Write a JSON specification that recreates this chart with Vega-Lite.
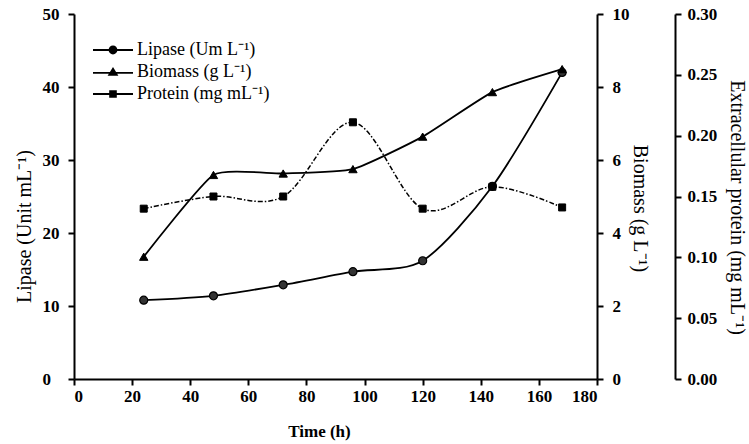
{
  "$schema": "https://vega.github.io/schema/vega-lite/v6.json",
  "autosize": "none",
  "width": 523,
  "height": 365,
  "padding": {"left": 74, "top": 14, "right": 152, "bottom": 65},
  "background": "white",
  "config": {
    "font": "Liberation Serif",
    "view": {"stroke": null},
    "axis": {
      "grid": false,
      "domainColor": "black",
      "domainWidth": 2,
      "tickColor": "black",
      "tickWidth": 2,
      "tickSize": 6,
      "labelFont": "Liberation Serif",
      "labelFontSize": 17,
      "labelFontWeight": "bold",
      "labelColor": "black",
      "labelPadding": 3,
      "titleFont": "Liberation Serif",
      "titleColor": "black",
      "titleFontWeight": "normal",
      "titleFontSize": 20
    }
  },
  "data": {
    "values": [
      {"time": 24, "lipase": 10.8, "biomass": 3.35, "protein": 0.140},
      {"time": 48, "lipase": 11.4, "biomass": 5.59, "protein": 0.150},
      {"time": 72, "lipase": 12.9, "biomass": 5.63, "protein": 0.150},
      {"time": 96, "lipase": 14.7, "biomass": 5.75, "protein": 0.211},
      {"time": 120, "lipase": 16.2, "biomass": 6.64, "protein": 0.140},
      {"time": 144, "lipase": 26.4, "biomass": 7.86, "protein": 0.158},
      {"time": 168, "lipase": 42.0, "biomass": 8.49, "protein": 0.141}
    ]
  },
  "encoding": {
    "x": {
      "field": "time",
      "type": "quantitative",
      "scale": {"domain": [0, 180], "nice": false},
      "axis": {
        "values": [0, 20, 40, 60, 80, 100, 120, 140, 160, 180],
        "title": "Time (h)",
        "titleFontWeight": "bold",
        "titleFontSize": 17,
        "titlePadding": 19,
        "titleX": 245
      }
    }
  },
  "layer": [
    {
      "encoding": {
        "y": {
          "field": "lipase",
          "type": "quantitative",
          "scale": {"domain": [0, 50], "nice": false},
          "axis": {
            "orient": "left",
            "values": [0, 10, 20, 30, 40, 50],
            "labelAlign": "left",
            "labelPadding": 26,
            "title": "Lipase (Unit mL⁻¹)",
            "titleY": 212,
            "titlePadding": 8
          }
        }
      },
      "layer": [
        {"mark": {"type": "line", "interpolate": "cardinal", "tension": 0.2, "color": "black", "strokeWidth": 1.8}},
        {"mark": {"type": "point", "shape": "circle", "filled": true, "fill": "#333333", "stroke": "black", "strokeWidth": 1.2, "size": 64, "opacity": 1}},
        {
          "mark": {"type": "point", "filled": true, "color": "black", "size": 64, "opacity": 0},
          "encoding": {
            "shape": {
              "datum": "Lipase (Um L⁻¹)",
              "scale": {
                "domain": ["Lipase (Um L⁻¹)", "Biomass (g L⁻¹)", "Protein (mg mL⁻¹)"],
                "range": [
                  "M-5,-0.22L5,-0.22L5,0.22L-5,0.22ZM1.1,0A1.1,1.1,0,1,1,-1.1,0A1.1,1.1,0,1,1,1.1,0Z",
                  "M-5,-0.02L5,-0.02L5,0.42L-5,0.42ZM0,-1.25L1.35,0.95L-1.35,0.95Z",
                  "M-5,-0.22L5,-0.22L5,0.22L-5,0.22ZM-0.95,-0.95L0.95,-0.95L0.95,0.95L-0.95,0.95Z"
                ]
              },
              "legend": {
                "title": null,
                "orient": "none",
                "legendX": 30,
                "legendY": 27,
                "padding": 0,
                "rowPadding": 4,
                "labelOffset": 15,
                "labelFont": "Liberation Serif",
                "labelFontSize": 18,
                "labelColor": "black",
                "symbolSize": 64,
                "symbolOpacity": 1,
                "symbolFillColor": "black",
                "symbolStrokeColor": "black",
                "symbolStrokeWidth": 0.5
              }
            }
          }
        }
      ]
    },
    {
      "encoding": {
        "y": {
          "field": "biomass",
          "type": "quantitative",
          "scale": {"domain": [0, 10], "nice": false},
          "axis": {
            "orient": "right",
            "values": [0, 2, 4, 6, 8, 10],
            "labelPadding": 9,
            "title": "Biomass (g L⁻¹)",
            "titleY": 194,
            "titlePadding": 0
          }
        }
      },
      "layer": [
        {"mark": {"type": "line", "interpolate": "cardinal", "tension": 0.5, "color": "black", "strokeWidth": 1.8}},
        {"mark": {"type": "point", "shape": "triangle-up", "filled": true, "fill": "black", "stroke": "black", "strokeWidth": 1, "size": 70, "opacity": 1}},
        {
          "mark": {"type": "point", "filled": true, "color": "black", "size": 64, "opacity": 0},
          "encoding": {"shape": {"datum": "Biomass (g L⁻¹)"}}
        }
      ]
    },
    {
      "encoding": {
        "y": {
          "field": "protein",
          "type": "quantitative",
          "scale": {"domain": [0, 0.3], "nice": false},
          "axis": {
            "orient": "right",
            "offset": 78,
            "values": [0, 0.05, 0.1, 0.15, 0.2, 0.25, 0.3],
            "format": ".2f",
            "labelPadding": 6,
            "title": "Extracellular protein (mg mL⁻¹)",
            "titleY": 193,
            "titlePadding": 10
          }
        }
      },
      "layer": [
        {"mark": {"type": "line", "interpolate": "cardinal", "color": "black", "strokeWidth": 1.5, "strokeDash": [5, 2, 1.5, 2]}},
        {"mark": {"type": "point", "shape": "square", "filled": true, "fill": "black", "stroke": "black", "strokeWidth": 1, "size": 49, "opacity": 1}},
        {
          "mark": {"type": "point", "filled": true, "color": "black", "size": 64, "opacity": 0},
          "encoding": {"shape": {"datum": "Protein (mg mL⁻¹)"}}
        }
      ]
    }
  ],
  "resolve": {"scale": {"y": "independent"}}
}
